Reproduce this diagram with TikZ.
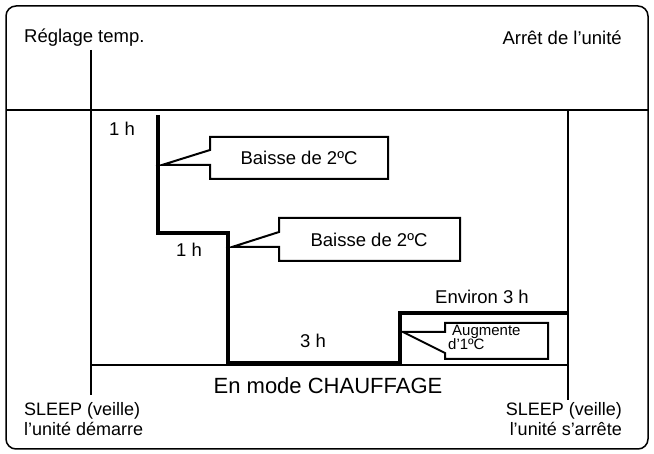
\documentclass[tikz,border=0pt]{standalone}
\usepackage{fontspec}
\setmainfont{Liberation Sans}
\begin{document}
\begin{tikzpicture}[x=1pt,y=-1pt,
  thin line/.style={line width=1.8pt},
  step line/.style={line width=3.4pt},
  callout/.style={line width=2pt, line join=miter},
  lbl/.style={font=\fontsize{18.5}{20}\selectfont, inner sep=0pt}]
\useasboundingbox (0,0) rectangle (654,454);

% frame and axes
\draw[line width=1.5pt, rounded corners=10pt] (6,6) rectangle (648,449);
\draw[thin line] (6,110) -- (648,110);
\draw[thin line] (91,50) -- (91,395);
\draw[thin line] (91,365) -- (568,365);
\draw[thin line] (568,110) -- (568,400);

% temperature steps
\draw[step line] (158,115) -- (158,233) -- (228,233) -- (228,363) -- (400,363)
  -- (400,313) -- (568,313);

% callouts
\draw[callout] (162,165) -- (210,150) -- (210,137) -- (388,137) -- (388,179)
  -- (210,179) -- (210,165) -- cycle;
\draw[callout] (232,247) -- (279,232) -- (279,218) -- (460,218) -- (460,261)
  -- (279,261) -- (279,247) -- cycle;
\draw[callout] (403,332) -- (445,332) -- (445,323) -- (548,323)
  -- (548,359) -- (445,359) -- (445,353) -- cycle;

% labels
\node[lbl, anchor=west] (reglage) at (24,38) {Réglage temp.};
\node[lbl, anchor=east] (arret) at (622,38) {Arrêt de l'unité};
\node[lbl] (h1) at (122,129) {1 h};
\node[lbl] (h2) at (189,250) {1 h};
\node[lbl] (h3) at (313,341) {3 h};
\node[lbl] (environ) at (482,297) {Environ 3 h};
\node[lbl] (baisse1) at (299,158) {Baisse de 2ºC};
\node[lbl] (baisse2) at (369,240) {Baisse de 2ºC};
\node[lbl, align=left, anchor=north west, font=\fontsize{15}{14}\selectfont]
  (augm) at (448,325) {\hspace*{4pt}Augmente\\d'1ºC};
\node[lbl, font=\fontsize{22}{24}\selectfont] (mode) at (328,386) {En mode CHAUFFAGE};
\node[lbl, align=left, anchor=north west, font=\fontsize{18}{20}\selectfont]
  (start) at (24,402) {SLEEP (veille)\\l’unité démarre};
\node[lbl, align=right, anchor=north east, font=\fontsize{18}{20}\selectfont]
  (stop) at (622,402) {SLEEP (veille)\\l’unité s’arrête};
\end{tikzpicture}
\end{document}
